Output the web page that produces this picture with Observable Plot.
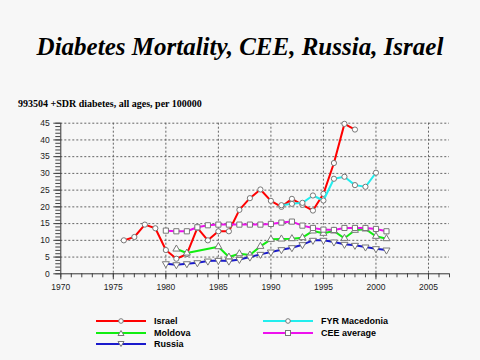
<!DOCTYPE html>
<html><head><meta charset="utf-8">
<script src="https://cdn.jsdelivr.net/npm/d3@7"></script>
<script src="https://cdn.jsdelivr.net/npm/@observablehq/plot@0.6"></script>
<style>
body{margin:0;background:#f7f7f7;width:480px;height:360px;overflow:hidden;position:relative;}
#title{position:absolute;left:0;width:480px;top:33px;line-height:25px;text-align:center;font:italic bold 25px "Liberation Serif","Times New Roman",serif;color:#000;}
#sub{position:absolute;left:18px;top:97.6px;line-height:10px;font:bold 10px "Liberation Serif","Times New Roman",serif;color:#000;white-space:nowrap;}
#chart{position:absolute;left:0;top:110px;}
.leg{position:absolute;height:12px;display:flex;align-items:center;font:bold 9px "Liberation Sans",Arial,sans-serif;color:#000;white-space:nowrap;}
.leg svg{margin-right:8px;}
</style>
</head><body>
<div id="title">Diabetes Mortality, CEE, Russia, Israel</div>
<div id="sub">993504 +SDR diabetes, all ages, per 100000</div>
<div id="chart"></div>
<div id="legend"></div>
<script>
const seriesNames = ["Israel","FYR Macedonia","Moldova","CEE average","Russia"];
const seriesColors = ["#ff0000","#22eeee","#11ee11","#ee11ee","#1a1acc"];
const seriesSymbols = ["circle","circle","triangle","square","triangle"];
const seriesRotate = [0,0,0,0,180];

const israelYears = [1976,1977,1978,1979,1980,1981,1982,1983,1984,1985,1986,1987,1988,1989,1990,1991,1992,1993,1994,1995,1996,1997,1998];
const israelValues = [10.0,11.0,14.7,13.6,7.1,4.5,5.9,13.7,10.0,12.7,12.7,19.1,22.6,25.2,21.8,20.0,22.4,20.6,18.9,23.9,33.1,44.8,43.1];

const macedoniaYears = [1991,1992,1993,1994,1995,1996,1997,1998,1999,2000];
const macedoniaValues = [20.5,20.9,21.2,23.4,21.9,28.4,29.0,26.5,26.0,30.2];

const moldovaYears = [1981,1982,1985,1986,1987,1988,1989,1990,1991,1992,1993,1994,1995,1996,1997,1998,1999,2000,2001];
const moldovaValues = [7.4,6.2,8.1,5.0,6.0,5.6,8.2,10.3,10.4,10.5,10.8,12.8,12.1,12.8,10.6,13.0,13.4,11.2,10.5];

const ceeYears = [1980,1981,1982,1983,1984,1985,1986,1987,1988,1989,1990,1991,1992,1993,1994,1995,1996,1997,1998,1999,2000,2001];
const ceeValues = [12.9,12.7,12.7,13.9,14.5,14.7,14.7,14.7,14.7,14.7,14.9,15.3,15.6,14.4,13.7,13.2,13.1,13.7,13.7,13.7,13.4,12.7];

const russiaYears = [1980,1981,1982,1983,1984,1985,1986,1987,1988,1989,1990,1991,1992,1993,1994,1995,1996,1997,1998,1999,2000,2001];
const russiaValues = [3.0,2.7,3.0,3.3,3.8,4.0,3.8,4.3,5.0,5.8,6.5,7.2,7.8,8.7,10.0,10.0,9.5,8.8,8.5,8.0,7.5,7.1];

const xTicks = [1970,1975,1980,1985,1990,1995,2000,2005];
const yTicks = [0,5,10,15,20,25,30,35,40,45];

const allYears = [israelYears, macedoniaYears, moldovaYears, ceeYears, russiaYears];
const allValues = [israelValues, macedoniaValues, moldovaValues, ceeValues, russiaValues];
const rows = [];
seriesNames.forEach((s,i)=>allYears[i].forEach((y,j)=>rows.push({series:s, year:y, value:allValues[i][j]})));

const marks = [
  Plot.gridY(yTicks.filter(d=>d>0), {stroke:"#555", strokeOpacity:0.9, strokeDasharray:"2,2"}),
  Plot.gridX(xTicks.filter(d=>d>1970), {stroke:"#555", strokeOpacity:0.9, strokeDasharray:"2,2"}),
  Plot.axisY(d3.range(0,46,1), {tickSize:5, tickFormat:()=>"", stroke:"#444", label:null}),
  Plot.axisY(yTicks, {tickSize:7, tickPadding:4, stroke:"#444", fill:"#222", label:null}),
  Plot.axisX(d3.range(1970,2008,1), {tickSize:4, tickFormat:()=>"", stroke:"#444", label:null}),
  Plot.axisX(xTicks, {tickSize:6, tickPadding:4, stroke:"#444", fill:"#222", tickFormat:d=>String(d), label:null}),
  Plot.ruleX([1970], {stroke:"#333"}),
  Plot.ruleY([0], {stroke:"#333"})
];
seriesNames.forEach((s,i)=>{
  const d = rows.filter(r=>r.series===s);
  marks.push(Plot.line(d, {x:"year", y:"value", stroke:seriesColors[i], strokeWidth:2}));
  marks.push(Plot.dot(d, {x:"year", y:"value", symbol:()=>seriesSymbols[i], rotate:seriesRotate[i], r: seriesSymbols[i]==="circle"?2.6:(seriesSymbols[i]==="square"?2.9:2.6), fill:"white", stroke:"#777", strokeWidth:1}));
});

const chart = Plot.plot({
  width:480, height:190,
  marginTop:12.7, marginBottom:26.7, marginLeft:60.3, marginRight:31,
  x:{domain:[1970,2007], axis:null, label:null},
  y:{domain:[0,45], axis:null, label:null},
  symbol:{type:"identity"},
  style:{background:"transparent", fontSize:"8.5px", fontFamily:"'Liberation Sans', Arial, sans-serif", overflow:"visible"},
  marks
});
document.getElementById("chart").appendChild(chart);

// legend
const legPos = [[96,315],[263,315],[96,326.5],[263,326.5],[96,338]];
const legOrder = ["Israel","FYR Macedonia","Moldova","CEE average","Russia"];
const legend = document.getElementById("legend");
legOrder.forEach((s,k)=>{
  const i = seriesNames.indexOf(s);
  const div = document.createElement("div");
  div.className="leg";
  div.style.left = legPos[k][0]+"px";
  div.style.top = legPos[k][1]+"px";
  const sym = seriesSymbols[i];
  let m;
  if(sym==="circle") m = `<circle cx="25" cy="6" r="2.3" fill="white" stroke="#777"/>`;
  else if(sym==="square") m = `<rect x="22.5" y="3.5" width="5" height="5" fill="white" stroke="#777"/>`;
  else if(seriesRotate[i]===180) m = `<path d="M22,3.5 L28,3.5 L25,8.5 Z" fill="white" stroke="#777"/>`;
  else m = `<path d="M22,8.5 L28,8.5 L25,3.5 Z" fill="white" stroke="#777"/>`;
  div.innerHTML = `<svg width="50" height="12"><line x1="0" x2="50" y1="6" y2="6" stroke="${seriesColors[i]}" stroke-width="2"/>${m}</svg><span>${s}</span>`;
  legend.appendChild(div);
});
</script>
</body></html>
